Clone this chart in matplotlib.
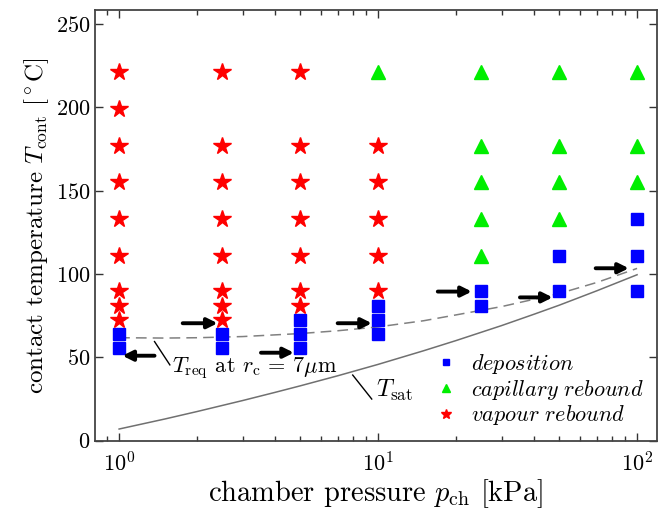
import matplotlib

matplotlib.use("Agg")
import matplotlib.pyplot as plt
from matplotlib.ticker import LogLocator, NullFormatter

plt.rcParams["font.family"] = "serif"
plt.rcParams["font.serif"] = ["cmr10"]
plt.rcParams["mathtext.fontset"] = "cm"
plt.rcParams["axes.formatter.use_mathtext"] = True

# regime map: chamber pressure (kPa) vs contact temperature (degC)
deposition_p = [1, 1, 2.5, 2.5, 5, 5, 5, 10, 10, 10, 25, 25, 50, 50, 100, 100, 100]
deposition_T = [55.5, 64, 55.5, 64, 55.5, 64, 72.5, 64, 72.5, 81, 81, 90, 90, 111, 90, 111, 133]

capillary_p = [10, 25, 25, 25, 25, 25, 50, 50, 50, 50, 100, 100, 100]
capillary_T = [221, 111, 133, 155, 177, 221, 133, 155, 177, 221, 155, 177, 221]

vapour_p = [1] * 9 + [2.5] * 8 + [5] * 7 + [10] * 5
vapour_T = (
    [72.5, 81, 90, 111, 133, 155, 177, 199, 221]
    + [72.5, 81, 90, 111, 133, 155, 177, 221]
    + [81, 90, 111, 133, 155, 177, 221]
    + [90, 111, 133, 155, 177]
)

# saturation temperature of water
sat_p = [1, 1.5, 2, 3, 4, 5, 7, 10, 15, 20, 30, 40, 50, 70, 100]
sat_T = [7.0, 13.0, 17.5, 24.1, 29.0, 32.9, 39.0, 45.8, 54.0, 60.1, 69.1, 75.9, 81.3, 90.0, 99.6]

# required contact temperature for r_c = 7 um
req_p = [1, 1.5, 2, 3, 5, 7, 10, 15, 20, 30, 50, 70, 100]
req_T = [61.8, 61.6, 61.8, 62.5, 64.3, 66.0, 68.3, 72.0, 75.5, 80.5, 88.3, 95.0, 103.4]

# transition arrows: (p_start, p_end, T)
arrows = [
    (1.37, 1.03, 51.0),
    (1.76, 2.40, 70.5),
    (3.53, 4.73, 52.8),
    (6.98, 9.46, 70.5),
    (17.0, 23.0, 89.5),
    (35.3, 47.2, 86.0),
    (69.2, 92.9, 103.5),
]

fig = plt.figure(figsize=(6.68, 5.11), dpi=100)
ax = fig.add_axes([0.142, 0.1376, 0.841, 0.8428])

ax.plot(sat_p, sat_T, color="#707070", lw=1.1, zorder=1)
ax.plot(req_p, req_T, color="#808080", lw=1.1, ls=(0, (7, 4)), zorder=1)

ax.plot(deposition_p, deposition_T, ls="none", marker="s", ms=8, color="#0000ff",
        label=r"$\mathit{deposition}$", zorder=3)
ax.plot(capillary_p, capillary_T, ls="none", marker="^", ms=10, color="#00ee00",
        label=r"$\mathit{capillary}\ \mathit{rebound}$", zorder=3)
ax.plot(vapour_p, vapour_T, ls="none", marker="*", ms=13, color="#ff0000",
        label=r"$\mathit{vapour}\ \mathit{rebound}$", zorder=3)

for p0, p1, T in arrows:
    ax.annotate("", xy=(p1, T), xytext=(p0, T),
                arrowprops=dict(arrowstyle="-|>", color="black", lw=2.8,
                                mutation_scale=15, shrinkA=0, shrinkB=0),
                zorder=4)

# curve labels with leader lines
ax.plot([1.37, 1.57], [59.5, 45.5], color="black", lw=1.0)
ax.text(1.60, 40.8, r"$T_{\rm req}$ at $r_{\rm c}$ = $7\mu$m",
        fontsize=16, va="baseline", ha="left")
ax.plot([7.98, 9.45], [39.4, 25.0], color="black", lw=1.0)
ax.text(9.85, 26.4, r"$T_{\rm sat}$", fontsize=17.5, va="baseline", ha="left")

ax.set_xscale("log")
ax.set_xlim(0.806, 119)
ax.set_ylim(0, 258.5)
ax.set_yticks([0, 50, 100, 150, 200, 250])
ax.xaxis.set_major_locator(LogLocator(base=10))
ax.xaxis.set_minor_locator(LogLocator(base=10, subs=range(2, 10)))
ax.xaxis.set_minor_formatter(NullFormatter())
ax.tick_params(which="both", direction="in", top=True, right=True,
               labelsize=16, width=1.0, color="#333333")
ax.tick_params(which="major", length=6)
ax.tick_params(which="minor", length=3.5)
ax.tick_params(axis="x", pad=8)
for spine in ax.spines.values():
    spine.set_linewidth(1.3)
    spine.set_color("#444444")

ax.set_xlabel(r"chamber pressure $p_{\rm ch}$ [kPa]", fontsize=20.5, labelpad=1)
ax.set_ylabel(r"contact temperature $T_{\rm cont}$ [$^\circ$C]", fontsize=18, labelpad=3)

ax.legend(loc="lower right", bbox_to_anchor=(1.0, 0.0), frameon=False,
          fontsize=16, markerscale=0.55, handlelength=1.0, handletextpad=0.6,
          labelspacing=0.08, borderaxespad=0.2, borderpad=0.4)

fig.savefig("out.png", dpi=100)
